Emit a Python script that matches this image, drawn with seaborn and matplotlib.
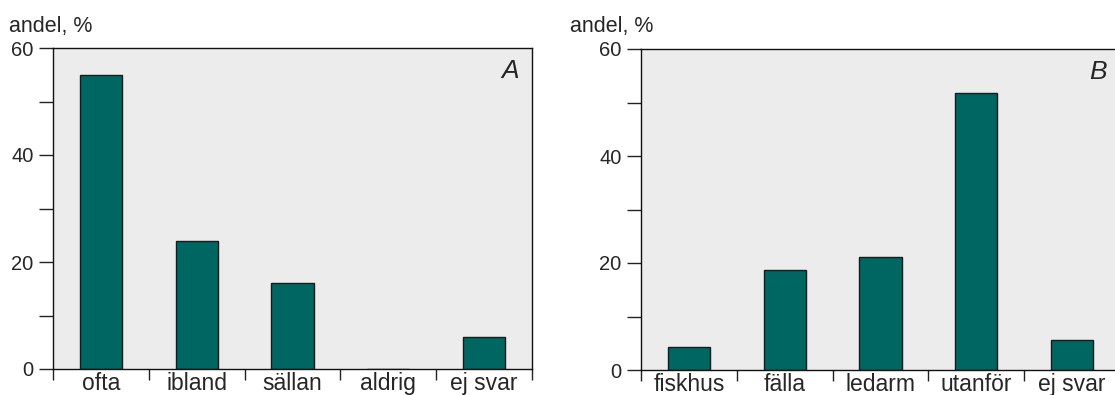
import matplotlib
matplotlib.use("Agg")
import matplotlib.pyplot as plt
import seaborn as sns
import pandas as pd

# data
cats_a = ["ofta", "ibland", "sällan", "aldrig", "ej svar"]
vals_a = [55, 24, 16, 0, 6]
cats_b = ["fiskhus", "fälla", "ledarm", "utanför", "ej svar"]
vals_b = [4.3, 18.7, 21.1, 51.8, 5.6]
yticks_major = [0, 20, 40, 60]
yticks_minor = [10, 30, 50]

sns.set_style("white")
plt.rcParams['font.family'] = ['Liberation Sans', 'DejaVu Sans']

bar_col = "#006661"
bg = "#ececec"

fig = plt.figure(figsize=(11.15, 3.95), dpi=100)
axA = fig.add_axes([53/1115, 26/395, 479/1115, 321/395])
axB = fig.add_axes([641/1115, 25/395, 479/1115, 321/395])


def panel(ax, cats, vals, letter, ylab_x):
    df = pd.DataFrame({"kat": cats, "andel": vals})
    sns.barplot(data=df, x="kat", y="andel", color=bar_col, saturation=1,
                edgecolor="#1a1a1a", linewidth=1, width=0.44, ax=ax)
    ax.set_facecolor(bg)
    ax.set_xlim(-0.5, len(cats) - 0.5)
    ax.set_ylim(0, 60)
    ax.set_yticks(yticks_major)
    ax.set_yticks(yticks_minor, minor=True)
    ax.set_xticks(range(len(cats)))
    ax.set_xticklabels(cats)
    ax.set_xticks([i - 0.5 for i in range(len(cats) + 1)], minor=True)
    ax.tick_params(axis="y", which="both", direction="out", length=10, width=1,
                   left=True, labelsize=14.5, pad=4, color="#222222")
    ax.tick_params(axis="x", which="major", length=0, labelsize=16.5, pad=2.5)
    ax.tick_params(axis="x", which="minor", direction="out", length=8, width=1,
                   bottom=True, color="#222222")
    ax.set_xlabel("")
    ax.set_ylabel("")
    for s in ax.spines.values():
        s.set_visible(True)
        s.set_color("#111111")
        s.set_linewidth(1)
    ax.text(0.972, 0.965, letter, transform=ax.transAxes, ha="right", va="top",
            fontsize=19, style="italic")
    fig.text(ylab_x / 1115, 1 - 32 / 395, "andel, %", ha="left",
             va="baseline", fontsize=15.5)


panel(axA, cats_a, vals_a, "A", 9)
panel(axB, cats_b, vals_b, "B", 570)

fig.savefig("out.png", dpi=100)
